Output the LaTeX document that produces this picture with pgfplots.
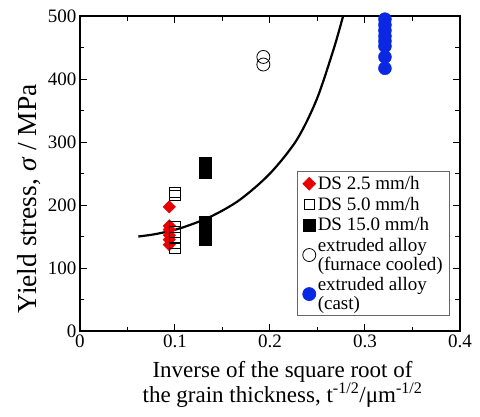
\documentclass[border=0pt]{standalone}
\usepackage{fontspec}
\setmainfont{Liberation Serif}
\usepackage{pgfplots}
\pgfplotsset{compat=1.18}
\definecolor{ptred}{RGB}{232,0,0}
\definecolor{ptblue}{RGB}{10,40,228}

\begin{document}
\begin{tikzpicture}
\useasboundingbox (-80pt,-85pt) rectangle (400pt,331pt);
\begin{axis}[
    at={(0,0)}, anchor=south west,
    scale only axis,
    width=380pt, height=315pt,
    xmin=0, xmax=0.4,
    ymin=0, ymax=500,
    xtick={0,0.1,0.2,0.3,0.4},
    xticklabels={\textrm{0},\textrm{0.1},\textrm{0.2},\textrm{0.3},\textrm{0.4}},
    ytick={0,100,200,300,400,500},
    yticklabels={\textrm{0},\textrm{100},\textrm{200},\textrm{300},\textrm{400},\textrm{500}},
    minor x tick num=1,
    minor y tick num=1,
    tick align=inside,
    major tick length=7pt,
    minor tick length=4.5pt,
    axis line style={line width=1.2pt},
    tick style={line width=1pt, black},
    tick label style={font=\fontsize{19}{19}\selectfont},
    xlabel={Inverse of the square root of\\the grain thickness, t\textsuperscript{-1/2}/μm\textsuperscript{-1/2}},
    xlabel style={align=center, font=\fontsize{23}{19.5}\selectfont,
        at={(axis description cs:0.533,-0.095)}, anchor=north, inner sep=0pt},
    ylabel={Yield stress, \textit{σ} / MPa},
    ylabel style={font=\fontsize{27.5}{27.5}\selectfont,
        at={(axis description cs:-0.135,0.42)}, anchor=center},
    legend cell align=left,
    legend style={at={(rel axis cs:0.572,0.508)}, anchor=north west,
        draw=black!60, line width=0.8pt,
        font=\fontsize{19}{13.5}\selectfont,
        inner xsep=5pt, inner ysep=3pt, row sep=2pt,
        cells={align=left}},
    legend image post style={xshift=2pt},
]
% fitted curve
\addplot[forget plot, black, line width=2.2pt, smooth] coordinates {
    (0.0614,150) (0.080,154) (0.1053,163) (0.1368,181) (0.168,208)
    (0.200,250) (0.228,303) (0.249,367) (0.2667,446) (0.277,500) (0.279,512)
};

\addplot[only marks, color=ptred, mark=square*, mark size=4.4pt,
    mark options={rotate=45, fill=ptred, draw=ptred}] coordinates {
    (0.094,197) (0.094,167) (0.094,161) (0.094,152) (0.094,145) (0.094,137)
};
\addlegendentry{DS 2.5 mm/h}

\addplot[only marks, black, mark=square, mark size=5.2pt,
    mark options={line width=0.8pt}] coordinates {
    (0.100,220) (0.100,215) (0.100,165) (0.100,157) (0.100,148) (0.100,140) (0.100,132)
};
\addlegendentry{DS 5.0 mm/h}

\addplot[only marks, black, mark=square*, mark size=6pt] coordinates {
    (0.1316,267) (0.1316,262) (0.1316,257) (0.1316,252)
    (0.1316,172) (0.1316,167) (0.1316,161) (0.1316,155) (0.1316,150) (0.1316,146)
};
\addlegendentry{DS 15.0 mm/h}

\addplot[only marks, black, mark=o, mark size=6.5pt,
    mark options={line width=0.8pt}] coordinates {
    (0.193,435) (0.193,423)
};
\addlegendentry{extruded alloy\\(furnace cooled)}

\addplot[only marks, color=ptblue, mark=*, mark size=6.5pt,
    mark options={fill=ptblue, draw=ptblue}] coordinates {
    (0.321,495) (0.321,486) (0.321,477) (0.321,468) (0.321,460) (0.321,452)
    (0.321,435) (0.321,417)
};
\addlegendentry{extruded alloy\\(cast)}
\end{axis}
\end{tikzpicture}
\end{document}
